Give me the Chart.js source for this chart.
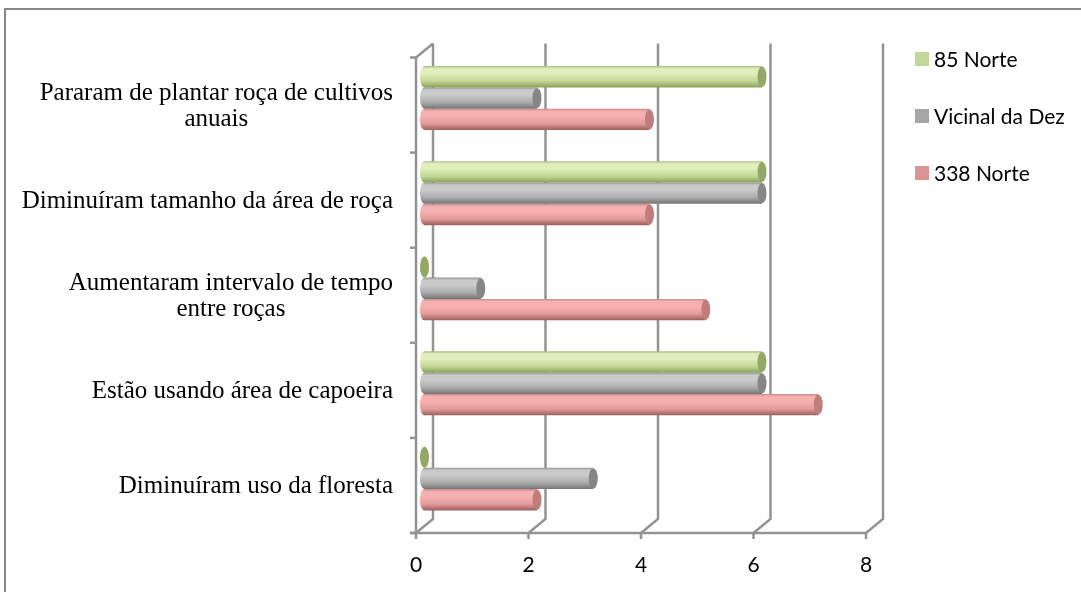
<!DOCTYPE html>
<html>
<head>
<meta charset="utf-8">
<script src="https://cdn.jsdelivr.net/npm/chart.js@4/dist/chart.umd.min.js"></script>
<style>
  html, body { margin: 0; padding: 0; background: #ffffff; }
  #wrap { width: 1081px; height: 592px; position: relative; }
</style>
</head>
<body>
<div id="wrap"><canvas id="c" width="1081" height="592"></canvas></div>
<script>
// Categories (top to bottom) and the three communities
const categories = [
  ['Pararam de plantar roça de cultivos', 'anuais'],
  ['Diminuíram tamanho da área de roça'],
  ['Aumentaram intervalo de tempo', 'entre roças'],
  ['Estão usando área de capoeira'],
  ['Diminuíram uso da floresta']
];
const seriesNames = ['85 Norte', 'Vicinal da Dez', '338 Norte'];
const norte85 = [6, 6, 0, 6, 0];
const vicinalDaDez = [2, 6, 1, 6, 3];
const norte338 = [4, 4, 5, 7, 2];
const xTicks = [0, 2, 4, 6, 8];

// Cylinder shading per series: edge, light, dark, end cap, legend swatch
const shades = [
  { edge: '#a9bd7e', light: '#e0eebd', mid: '#c4d897', dark: '#8aa05c', cap: '#93a866', swatch: '#c4d79b' },
  { edge: '#959595', light: '#cacaca', mid: '#acacac', dark: '#747474', cap: '#868686', swatch: '#a6a6a6' },
  { edge: '#c98888', light: '#f5b1b1', mid: '#e49c9c', dark: '#9c5e5e', cap: '#c07d7d', swatch: '#d99694' }
];

const CATEGORY_PCT = 0.673;
const DEPTH_X = 8.5;   // half depth of the 3D floor, horizontal
const DEPTH_Y = 7;     // half depth of the 3D floor, vertical
const AXIS_COLOR = '#939393';

function barGeometry(chart, dsIndex, index) {
  const ys = chart.scales.y;
  const n = chart.data.labels.length;
  const band = (ys.bottom - ys.top) / n;
  const group = band * CATEGORY_PCT;
  const h = group / chart.data.datasets.length;
  const top = ys.getPixelForValue(index) - group / 2 + dsIndex * h;
  return { top, h };
}

function bodyGradient(c2d, s, top, h) {
  const g = c2d.createLinearGradient(0, top, 0, top + h);
  g.addColorStop(0, s.edge);
  g.addColorStop(0.12, s.light);
  g.addColorStop(0.35, s.light);
  g.addColorStop(0.7, s.mid);
  g.addColorStop(1, s.dark);
  return g;
}

function cylinderFill(ctx) {
  const s = shades[ctx.datasetIndex];
  const chart = ctx.chart;
  if (ctx.type !== 'data' || !chart.scales || !chart.scales.y) return s.mid;
  const { top, h } = barGeometry(chart, ctx.datasetIndex, ctx.dataIndex);
  if (!Number.isFinite(top) || !Number.isFinite(h) || h <= 0) return s.mid;
  return bodyGradient(chart.ctx, s, top, h);
}

// Back wall, floor edges and front axes of the 3D plot box
const wallPlugin = {
  id: 'wall',
  beforeDatasetsDraw(chart) {
    const c = chart.ctx, xs = chart.scales.x, ys = chart.scales.y;
    const backTop = ys.top - DEPTH_Y, backBottom = ys.bottom - DEPTH_Y;
    const frontTop = ys.top + DEPTH_Y, frontBottom = ys.bottom + DEPTH_Y;
    c.save();
    c.strokeStyle = AXIS_COLOR;
    c.lineWidth = 2.5;
    c.lineCap = 'butt';
    xTicks.forEach(v => {
      const px = xs.getPixelForValue(v);
      c.beginPath();
      c.moveTo(px + DEPTH_X, backTop);
      c.lineTo(px + DEPTH_X, backBottom);
      c.lineTo(px - DEPTH_X, frontBottom);
      c.stroke();
      // small tick under the front axis
      c.beginPath();
      c.moveTo(px - DEPTH_X, frontBottom);
      c.lineTo(px - DEPTH_X, frontBottom + 6);
      c.stroke();
    });
    const x0 = xs.getPixelForValue(0);
    const x8 = xs.getPixelForValue(8);
    // front floor edge
    c.beginPath();
    c.moveTo(x0 - DEPTH_X - 6, frontBottom);
    c.lineTo(x8 - DEPTH_X, frontBottom);
    c.stroke();
    // front left edge and top diagonal
    c.beginPath();
    c.moveTo(x0 + DEPTH_X, backTop);
    c.lineTo(x0 - DEPTH_X, frontTop);
    c.lineTo(x0 - DEPTH_X, frontBottom);
    c.stroke();
    // category tick marks on the left edge
    const n = chart.data.labels.length;
    const band = (ys.bottom - ys.top) / n;
    for (let k = 0; k <= n; k++) {
      const py = frontTop + k * band;
      c.beginPath();
      c.moveTo(x0 - DEPTH_X - 6, py);
      c.lineTo(x0 - DEPTH_X, py);
      c.stroke();
    }
    // rounded start of each cylinder
    chart.data.datasets.forEach((ds, di) => {
      const meta = chart.getDatasetMeta(di);
      meta.data.forEach((bar, i) => {
        const { top, h } = barGeometry(chart, di, i);
        c.fillStyle = bodyGradient(c, shades[di], top, h);
        c.beginPath();
        c.ellipse(bar.base, top + h / 2, 4.5, h / 2, 0, 0, Math.PI * 2);
        c.fill();
      });
    });
    c.restore();
  },
  afterDatasetsDraw(chart) {
    const c = chart.ctx;
    c.save();
    // end caps of the cylinders
    chart.data.datasets.forEach((ds, di) => {
      const meta = chart.getDatasetMeta(di);
      meta.data.forEach((bar, i) => {
        const { top, h } = barGeometry(chart, di, i);
        c.fillStyle = shades[di].cap;
        c.beginPath();
        c.ellipse(bar.x, top + h / 2, 4.5, h / 2 - 0.5, 0, 0, Math.PI * 2);
        c.fill();
      });
    });
    c.restore();
  },
  afterDraw(chart) {
    const c = chart.ctx, ys = chart.scales.y;
    c.save();
    // category labels: right-aligned blocks with centred lines
    c.fillStyle = '#000000';
    c.font = '25px "Liberation Serif", "Times New Roman", serif';
    c.textBaseline = 'middle';
    c.textAlign = 'center';
    const rightEdge = 393, lineH = 26;
    categories.forEach((lines, i) => {
      const cy = ys.getPixelForValue(i) + DEPTH_Y + 1;
      const w = Math.max(...lines.map(t => c.measureText(t).width));
      const cx = rightEdge - w / 2;
      lines.forEach((t, k) => {
        c.fillText(t, cx, cy + (k - (lines.length - 1) / 2) * lineH);
      });
    });
    // legend
    c.font = '21px Lato, "Open Sans", sans-serif';
    c.textAlign = 'left';
    seriesNames.forEach((name, i) => {
      const cy = 59 + i * 57;
      c.fillStyle = shades[i].swatch;
      c.fillRect(915, cy - 7, 14, 14);
      c.fillStyle = '#000000';
      c.fillText(name, 934, cy + 1);
    });
    // outer frame
    c.strokeStyle = '#878787';
    c.lineWidth = 2;
    c.strokeRect(5, 9, 1100, 600);
    c.restore();
  }
};

const seriesData = [norte85, vicinalDaDez, norte338];

new Chart(document.getElementById('c'), {
  type: 'bar',
  data: {
    labels: categories,
    datasets: seriesNames.map((name, i) => ({
      label: name,
      data: seriesData[i],
      backgroundColor: cylinderFill,
      borderWidth: 0,
      categoryPercentage: CATEGORY_PCT,
      barPercentage: 1
    }))
  },
  options: {
    indexAxis: 'y',
    responsive: false,
    animation: false,
    events: [],
    layout: { padding: { left: 424.5, right: 206.5, top: 50.5, bottom: 0 } },
    plugins: { legend: { display: false }, tooltip: { enabled: false } },
    scales: {
      x: {
        min: 0, max: 8,
        afterBuildTicks(scale) { scale.ticks = xTicks.map(v => ({ value: v })); },
        afterFit(scale) { scale.height = 66; },
        grid: { display: false, drawTicks: false },
        border: { display: false },
        ticks: {
          color: '#000000',
          font: { family: 'Lato, "Open Sans", sans-serif', size: 21 },
          padding: 27,
          labelOffset: -DEPTH_X,
          maxRotation: 0
        }
      },
      y: { display: false }
    }
  },
  plugins: [wallPlugin]
});
</script>
</body>
</html>
